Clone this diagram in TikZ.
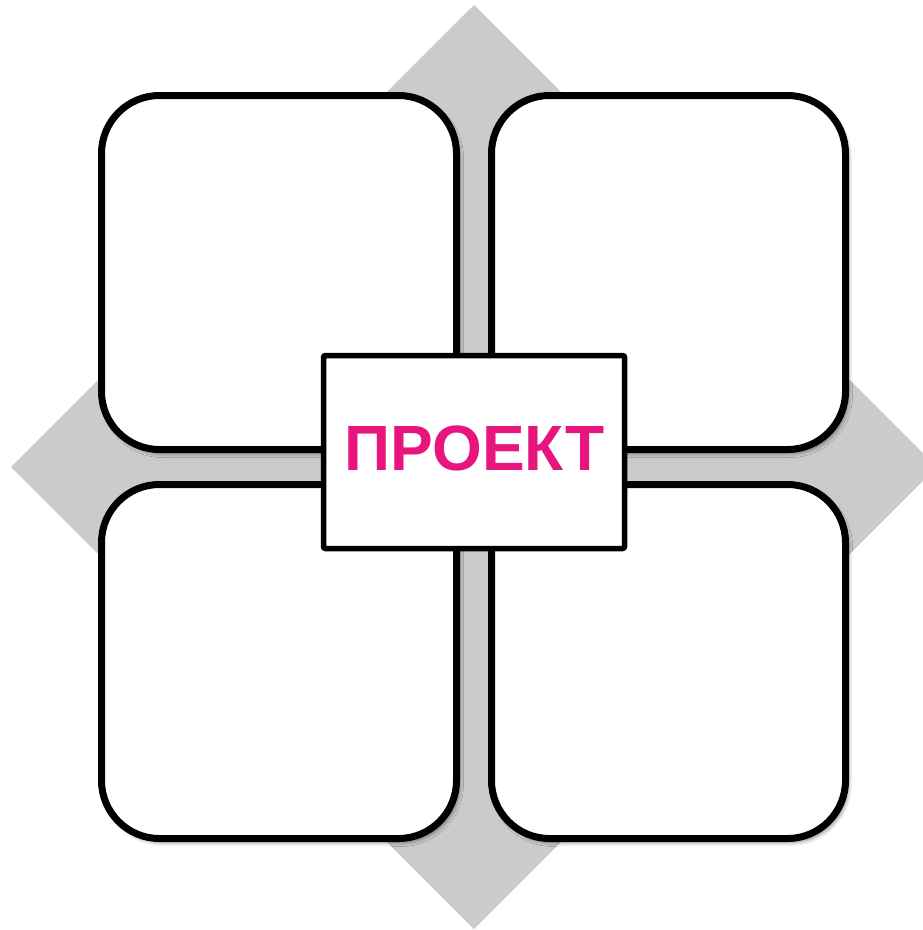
\documentclass[tikz,border=0pt]{standalone}
\usepackage{fontspec}
\setmainfont{Liberation Sans}
\usetikzlibrary{shadows.blur}
\definecolor{diagray}{HTML}{CBCBCB}
\definecolor{projpink}{HTML}{E9157F}
\tikzset{
  quad/.style={draw=black, line width=7pt, fill=white, rounded corners=58pt,
    blur shadow={shadow xshift=3pt, shadow yshift=-4pt, shadow opacity=45, shadow blur steps=6, shadow blur radius=4pt}},
  centerbox/.style={draw=black, line width=5.5pt, fill=white, rounded corners=2pt},
  label/.style={text=projpink, font=\bfseries\fontsize{64}{64}\selectfont, inner sep=0pt}
}
\begin{document}
\begin{tikzpicture}[x=1pt, y=-1pt]
\useasboundingbox (0,0) rectangle (923,930);
\clip (0,0) rectangle (923,930);
\fill[diagray] (474,5) -- (937,467) -- (474,929) -- (11,467) -- cycle;
\path[quad] (101.5,95.5) rectangle (456.5,449.5);
\path[quad] (491.5,95.5) rectangle (845.5,449.5);
\path[quad] (101.5,484.5) rectangle (456.5,838.5);
\path[quad] (491.5,484.5) rectangle (845.5,838.5);
\node[centerbox, minimum width=301pt, minimum height=193pt] (proj) at (474,452) {};
\node[label, anchor=base] (t) at (474.5,470) {ПРОЕКТ};
\end{tikzpicture}
\end{document}
